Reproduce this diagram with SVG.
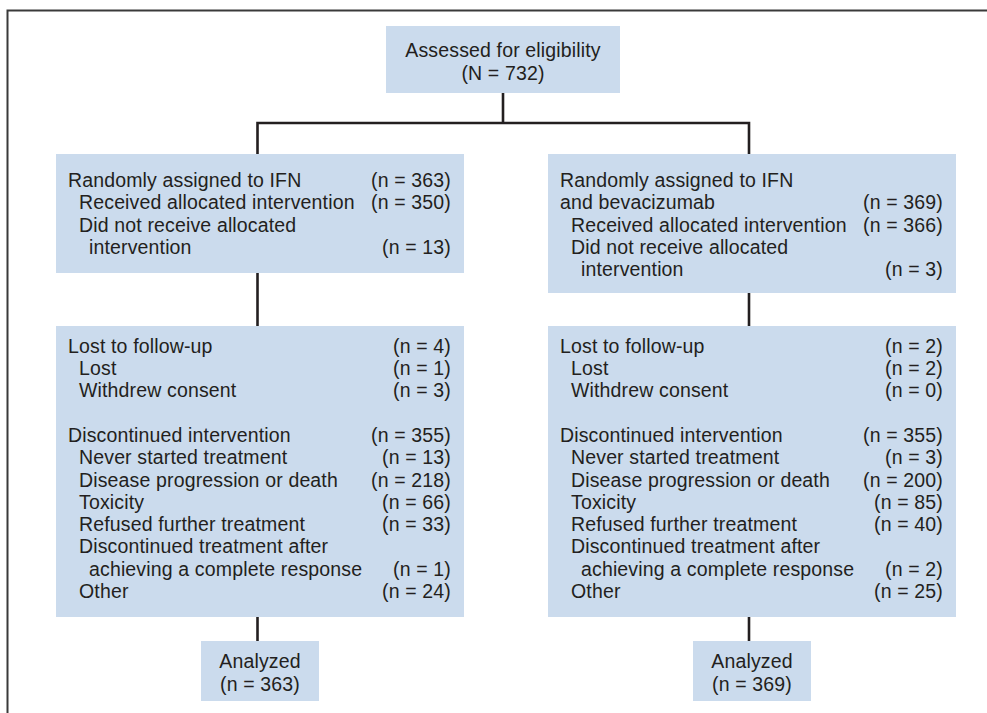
<svg xmlns="http://www.w3.org/2000/svg" width="987" height="713" viewBox="0 0 987 713">
<style>
.box{fill:#cbdbed;}
.t{font-family:"Liberation Sans",Arial,sans-serif;font-size:19.5px;letter-spacing:0.15px;fill:#231f20;}
.c{text-anchor:middle;}
.r{text-anchor:end;}
.ln{stroke:#231f20;stroke-width:2.6;fill:none;}
.frame{stroke:#3a3a3a;stroke-width:2;fill:none;}
</style>
<rect width="987" height="713" fill="#ffffff"/>
<path class="frame" d="M7.5,713 V10.5 H987"/>
<g id="connectors">
<path class="ln" d="M503,93 V123"/>
<path class="ln" d="M257.5,154 V123 H749 V154"/>
<path class="ln" d="M257.5,273 V326"/>
<path class="ln" d="M749,293 V326"/>
<path class="ln" d="M257.5,617 V641"/>
<path class="ln" d="M749,617 V641"/>
</g>
<g id="assessed">
<rect class="box" x="386" y="26" width="234" height="67"/>
<text class="t c" x="503" y="57">Assessed for eligibility</text>
<text class="t c" x="503" y="80">(N = 732)</text>
</g>
<g id="ifn-assigned">
<rect class="box" x="56" y="154" width="408" height="119"/>
<text class="t" x="68" y="187">Randomly assigned to IFN</text>
<text class="t r" x="451" y="187">(n = 363)</text>
<text class="t" x="79" y="209">Received allocated intervention</text>
<text class="t r" x="451" y="209">(n = 350)</text>
<text class="t" x="79" y="232">Did not receive allocated</text>
<text class="t" x="89" y="254">intervention</text>
<text class="t r" x="451" y="254">(n = 13)</text>
</g>
<g id="ifnbev-assigned">
<rect class="box" x="548" y="154" width="408" height="139"/>
<text class="t" x="560" y="187">Randomly assigned to IFN</text>
<text class="t" x="560" y="209">and bevacizumab</text>
<text class="t r" x="943" y="209">(n = 369)</text>
<text class="t" x="571" y="232">Received allocated intervention</text>
<text class="t r" x="943" y="232">(n = 366)</text>
<text class="t" x="571" y="254">Did not receive allocated</text>
<text class="t" x="581" y="276">intervention</text>
<text class="t r" x="943" y="276">(n = 3)</text>
</g>
<g id="ifn-followup">
<rect class="box" x="56" y="326" width="408" height="291"/>
<text class="t" x="68" y="353">Lost to follow-up</text><text class="t r" x="451" y="353">(n = 4)</text>
<text class="t" x="79" y="375">Lost</text><text class="t r" x="451" y="375">(n = 1)</text>
<text class="t" x="79" y="397">Withdrew consent</text><text class="t r" x="451" y="397">(n = 3)</text>
<text class="t" x="68" y="442">Discontinued intervention</text><text class="t r" x="451" y="442">(n = 355)</text>
<text class="t" x="79" y="464">Never started treatment</text><text class="t r" x="451" y="464">(n = 13)</text>
<text class="t" x="79" y="487">Disease progression or death</text><text class="t r" x="451" y="487">(n = 218)</text>
<text class="t" x="79" y="509">Toxicity</text><text class="t r" x="451" y="509">(n = 66)</text>
<text class="t" x="79" y="531">Refused further treatment</text><text class="t r" x="451" y="531">(n = 33)</text>
<text class="t" x="79" y="553">Discontinued treatment after</text>
<text class="t" x="89" y="576">achieving a complete response</text><text class="t r" x="451" y="576">(n = 1)</text>
<text class="t" x="79" y="598">Other</text><text class="t r" x="451" y="598">(n = 24)</text>
</g>
<g id="ifnbev-followup">
<rect class="box" x="548" y="326" width="408" height="291"/>
<text class="t" x="560" y="353">Lost to follow-up</text><text class="t r" x="943" y="353">(n = 2)</text>
<text class="t" x="571" y="375">Lost</text><text class="t r" x="943" y="375">(n = 2)</text>
<text class="t" x="571" y="397">Withdrew consent</text><text class="t r" x="943" y="397">(n = 0)</text>
<text class="t" x="560" y="442">Discontinued intervention</text><text class="t r" x="943" y="442">(n = 355)</text>
<text class="t" x="571" y="464">Never started treatment</text><text class="t r" x="943" y="464">(n = 3)</text>
<text class="t" x="571" y="487">Disease progression or death</text><text class="t r" x="943" y="487">(n = 200)</text>
<text class="t" x="571" y="509">Toxicity</text><text class="t r" x="943" y="509">(n = 85)</text>
<text class="t" x="571" y="531">Refused further treatment</text><text class="t r" x="943" y="531">(n = 40)</text>
<text class="t" x="571" y="553">Discontinued treatment after</text>
<text class="t" x="581" y="576">achieving a complete response</text><text class="t r" x="943" y="576">(n = 2)</text>
<text class="t" x="571" y="598">Other</text><text class="t r" x="943" y="598">(n = 25)</text>
</g>
<g id="ifn-analyzed">
<rect class="box" x="201" y="641" width="118" height="60"/>
<text class="t c" x="260" y="668">Analyzed</text>
<text class="t c" x="260" y="691">(n = 363)</text>
</g>
<g id="ifnbev-analyzed">
<rect class="box" x="693" y="641" width="118" height="60"/>
<text class="t c" x="752" y="668">Analyzed</text>
<text class="t c" x="752" y="691">(n = 369)</text>
</g>
</svg>
